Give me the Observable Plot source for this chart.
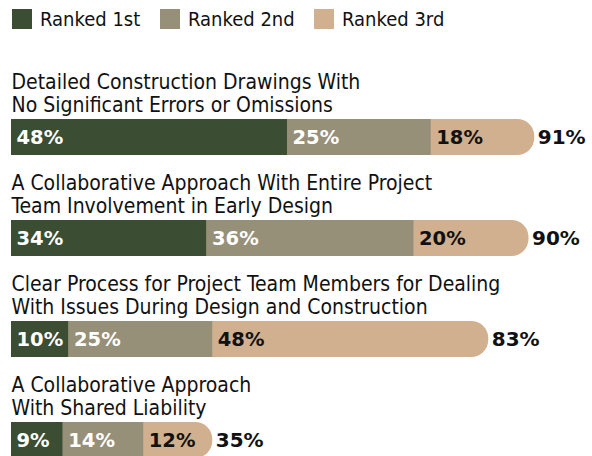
<!DOCTYPE html>
<html>
<head>
<meta charset="utf-8">
<script src="https://cdn.jsdelivr.net/npm/d3@7"></script>
<script src="https://cdn.jsdelivr.net/npm/@observablehq/plot@0.6"></script>
<style>
  html, body { margin: 0; padding: 0; background: #fff; overflow: hidden; }
  #legend { display: flex; align-items: center; height: 38px; padding-left: 12px;
    font-family: "DejaVu Sans Condensed", "Liberation Sans Narrow", "DejaVu Sans", sans-serif;
    font-stretch: condensed; font-size: 20px; color: #111; }
  #legend .item { display: flex; align-items: center; white-space: nowrap; }
  #legend .sw { width: 20px; height: 20px; margin-right: 8px; flex: none; }
</style>
</head>
<body>
<div id="legend"></div>
<div id="chart"></div>
<script>
const ranks = ["Ranked 1st", "Ranked 2nd", "Ranked 3rd"];
const colors = ["#3b4d33", "#979079", "#d1b090"];
const categories = [
  "Detailed Construction Drawings With\nNo Significant Errors or Omissions",
  "A Collaborative Approach With Entire Project\nTeam Involvement in Early Design",
  "Clear Process for Project Team Members for Dealing\nWith Issues During Design and Construction",
  "A Collaborative Approach\nWith Shared Liability"
];
const first = [48, 34, 10, 9];
const second = [25, 36, 25, 14];
const third = [18, 20, 48, 12];
const totals = [91, 90, 83, 35];

const series = [first, second, third];
const rows = [];
categories.forEach((cat, i) => {
  series.forEach((vals, j) => rows.push({cat, rank: ranks[j], value: vals[i]}));
});
const totalRows = categories.map((cat, i) => ({cat, total: totals[i]}));

// legend
const itemWidths = [148, 154, 140];
const legend = d3.select("#legend");
ranks.forEach((r, j) => {
  const it = legend.append("div").attr("class", "item").style("width", itemWidths[j] + "px");
  it.append("div").attr("class", "sw").style("background", colors[j]);
  it.append("span").text(r);
});

const labelFont = '"DejaVu Sans Condensed", "Liberation Sans Narrow", "DejaVu Sans", sans-serif';
const valueFont = '"DejaVu Sans", sans-serif';
const valueStyle = {fontFamily: valueFont, fontWeight: "bold", fontSize: 19.5, letterSpacing: 1.2};
const totalStyle = {fontFamily: valueFont, fontWeight: "bold", fontSize: 20, letterSpacing: 1.5};

const chart = Plot.plot({
  width: 592,
  height: 421,
  marginLeft: 11,
  marginRight: 6,
  marginTop: 79,
  marginBottom: 0,
  x: {domain: [0, 100], axis: null},
  y: {domain: categories, axis: null, paddingInner: 0.647, paddingOuter: 0},
  color: {domain: ranks, range: colors},
  marks: [
    Plot.barX(totalRows, {x: "total", y: "cat", fill: () => ranks[2], rx: 17}),
    Plot.barX(rows.filter(d => d.rank !== ranks[2]), Plot.stackX({x: "value", y: "cat", z: "rank", fill: "rank"})),
    Plot.text(rows, Plot.filter(d => d.rank !== ranks[2], Plot.stackX1({
      x: "value", y: "cat", z: "rank", text: d => d.value + "%",
      textAnchor: "start", dx: 5, fill: "white", ...valueStyle
    }))),
    Plot.text(rows, Plot.filter(d => d.rank === ranks[2], Plot.stackX1({
      x: "value", y: "cat", z: "rank", text: d => d.value + "%",
      textAnchor: "start", dx: 5, fill: "#111", ...valueStyle
    }))),
    Plot.text(totalRows, {
      x: "total", y: "cat", text: d => d.total + "%",
      textAnchor: "start", dx: 3, fill: "#111", ...totalStyle
    }),
    Plot.text(totalRows, {
      y: "cat", text: "cat", frameAnchor: "left", textAnchor: "start",
      lineAnchor: "bottom", dy: -26, lineHeight: 1.05, fill: "#111",
      fontFamily: labelFont, fontSize: 21
    })
  ]
});
document.getElementById("chart").append(chart);
</script>
</body>
</html>
